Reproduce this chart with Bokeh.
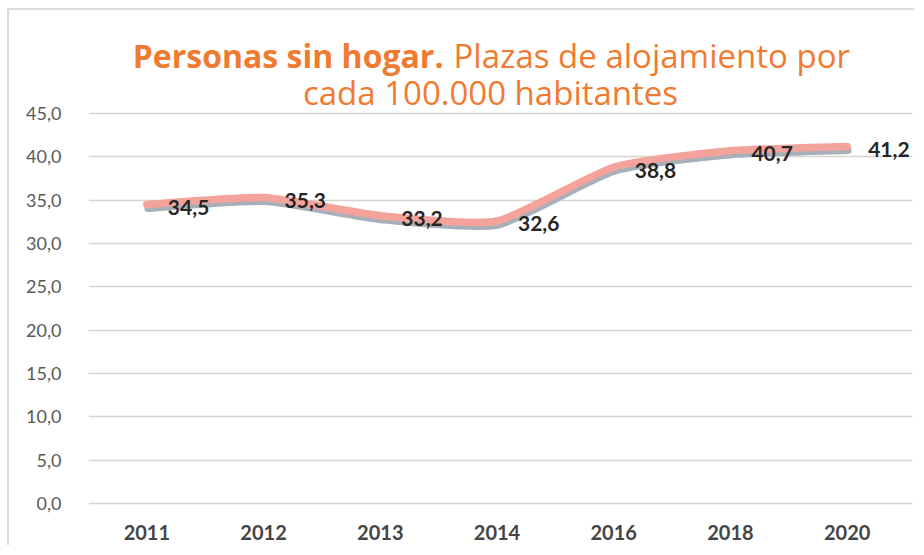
import numpy as np
from bokeh.plotting import figure
from bokeh.models import Range1d, FixedTicker, Label
from bokeh.embed import file_html
from bokeh.resources import INLINE

# ---- data ----
years = ["2011", "2012", "2013", "2014", "2016", "2018", "2020"]
plazas = [34.5, 35.3, 33.2, 32.6, 38.8, 40.7, 41.2]
value_labels = ["34,5", "35,3", "33,2", "32,6", "38,8", "40,7", "41,2"]
y_ticks = [0, 5, 10, 15, 20, 25, 30, 35, 40, 45]
y_tick_labels = ["0,0", "5,0", "10,0", "15,0", "20,0", "25,0", "30,0", "35,0", "40,0", "45,0"]
title_bold = "Personas sin hogar."
title_rest = "Plazas de alojamiento por"
title_line2 = "cada 100.000 habitantes"

# ---- layout (page pixels) ----
OX, OY = 9, 10                      # canvas origin on the page (after frame border)
W, H = 916 - OX, 547 - OY
ML, MR, MB, MT = 88 - OX, 4, 41, 0
UNIT = 817 / 7                      # px per category slot
FW = W - ML - MR
FH = H - MB - MT
PAD_BOTTOM = 3                      # px below the 0 line
K = 390 / 45                        # px per unit
n = len(years)
x_start = -0.5
x_end = x_start + FW / UNIT
y_start = -PAD_BOTTOM / K
y_end = (FH - PAD_BOTTOM) / K
SMOOTH = 1 / 10

ORANGE = "#EF7B31"
LINE = "#F3A39B"
SHADOW = "#A7B0B8"
FRAME = "#DEDAD7"


def sx(page_x):
    return (page_x - OX - ML) / UNIT + x_start


def sy(page_y):
    return (FH - PAD_BOTTOM - (page_y - OY - MT)) / K


p = figure(width=W, height=H, x_range=Range1d(x_start, x_end), y_range=Range1d(y_start, y_end),
           output_backend="svg", toolbar_location=None,
           min_border_left=ML, min_border_right=MR, min_border_bottom=MB, min_border_top=MT)
p.outline_line_color = None
p.background_fill_color = "white"
p.border_fill_color = "white"
p.styles = {"margin-left": "7px", "margin-top": "8px",
            "border-left": f"2px solid {FRAME}", "border-top": f"2px solid {FRAME}"}

# axes
xs = list(range(n))
p.xaxis.ticker = FixedTicker(ticks=xs)
p.xaxis.major_label_overrides = {i: years[i] for i in xs}
p.yaxis.ticker = FixedTicker(ticks=y_ticks)
p.yaxis.major_label_overrides = dict(zip(y_ticks, y_tick_labels))
for ax in (p.xaxis[0], p.yaxis[0]):
    ax.axis_line_color = None
    ax.major_tick_line_color = None
    ax.minor_tick_line_color = None
    ax.major_label_text_font = "Lato"
p.xaxis.major_label_text_font_size = "20px"
p.xaxis.major_label_text_font_style = "bold"
p.xaxis.major_label_text_color = "#454545"
p.xaxis.major_label_standoff = 12
p.yaxis.major_label_text_font_size = "18px"
p.yaxis.major_label_text_color = "#595959"
p.yaxis.major_label_standoff = 21

p.xgrid.grid_line_color = None
p.ygrid.grid_line_color = "#D9D4D0"
p.ygrid.grid_line_width = 1.5

# smoothed line (bezier segments through the data points)
xa = np.array(xs, dtype=float)
ya = np.array(plazas, dtype=float)
xp = np.concatenate([[xa[0]], xa, [xa[-1]]])
yp = np.concatenate([[ya[0]], ya, [ya[-1]]])
x0, y0 = xa[:-1], ya[:-1]
x1, y1 = xa[1:], ya[1:]
cx0 = x0 + (xp[2:-1] - xp[0:-3]) * SMOOTH
cy0 = y0 + (yp[2:-1] - yp[0:-3]) * SMOOTH
cx1 = x1 - (xp[3:] - xp[1:-2]) * SMOOTH
cy1 = y1 - (yp[3:] - yp[1:-2]) * SMOOTH

shadow_dy = 4 / K
shadow_dx = 1 / UNIT
p.bezier(x0=x0 + shadow_dx, y0=y0 - shadow_dy, x1=x1 + shadow_dx, y1=y1 - shadow_dy,
         cx0=cx0 + shadow_dx, cy0=cy0 - shadow_dy, cx1=cx1 + shadow_dx, cy1=cy1 - shadow_dy,
         line_color=SHADOW, line_width=7, line_cap="round")
p.bezier(x0=x0, y0=y0, x1=x1, y1=y1, cx0=cx0, cy0=cy0, cx1=cx1, cy1=cy1,
         line_color=LINE, line_width=7.5, line_cap="round")

# data labels (one annotation per point, placed through the data scales)
for xi, yi, lab in zip(xs, plazas, value_labels):
    p.add_layout(Label(x=xi, y=yi, text=lab, x_offset=21, y_offset=-3,
                       text_align="left", text_baseline="middle",
                       text_font="Lato", text_font_style="bold", text_font_size="21px",
                       text_color="#262626"))

# title (two lines, first part bold)
p.add_layout(Label(x=sx(443), y=sy(55), text=title_bold, text_align="right",
                   text_baseline="alphabetic", text_font="Open Sans", text_font_style="bold",
                   text_font_size="32px", text_color=ORANGE))
p.add_layout(Label(x=sx(453), y=sy(55), text=title_rest, text_align="left",
                   text_baseline="alphabetic", text_font="Open Sans",
                   text_font_size="33px", text_color=ORANGE))
p.add_layout(Label(x=sx(490), y=sy(92), text=title_line2, text_align="center",
                   text_baseline="alphabetic", text_font="Open Sans",
                   text_font_size="33px", text_color=ORANGE))

open("out.html", "w").write(file_html(p, INLINE))
